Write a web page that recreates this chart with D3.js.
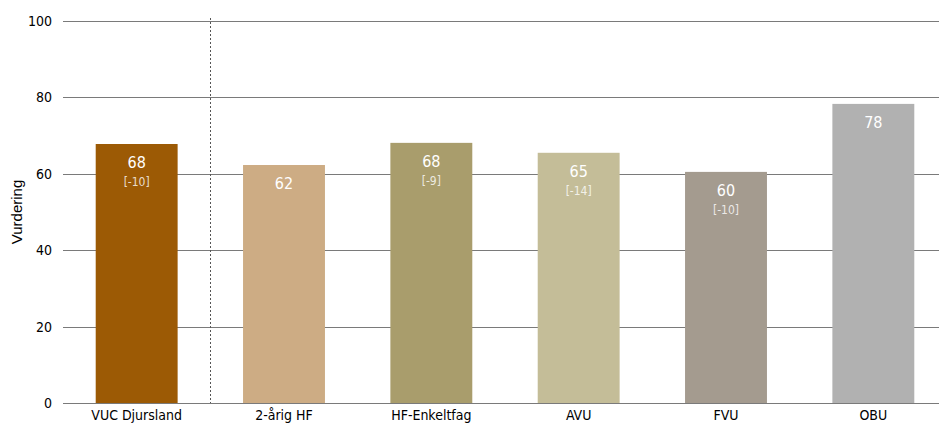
<!DOCTYPE html>
<html><head><meta charset="utf-8">
<script src="https://cdn.jsdelivr.net/npm/d3@7"></script>
<style>body{margin:0;background:#fff}</style>
</head><body>
<script>
const categories = ["VUC Djursland","2-årig HF","HF-Enkeltfag","AVU","FVU","OBU"];
const values = [67.8, 62.3, 68.1, 65.5, 60.5, 78.3];
const valueLabels = ["68", "62", "68", "65", "60", "78"];
const diffs = ["[-10]", null, "[-9]", "[-14]", "[-10]", null];
const colors = ["#9C5A05","#CDAC84","#A99D6C","#C4BD98","#A49B8F","#B1B1B1"];
const yTicks = [0, 20, 40, 60, 80, 100];

const W = 939, H = 426;
const m = {l: 63, t: 21, b: 23};
const font = "'DejaVu Sans Condensed', 'DejaVu Sans', sans-serif";

const svg = d3.select("body").append("svg").attr("width", W).attr("height", H);
const x = d3.scaleBand().domain(categories).range([m.l, 947]).paddingInner(0.444).paddingOuter(0.222);
const y = d3.scaleLinear().domain([0, 100]).range([H - m.b, m.t]);

// gridlines
svg.append("g").selectAll("line").data(yTicks).join("line")
  .attr("x1", m.l).attr("x2", W)
  .attr("y1", d => Math.round(y(d)) + 0.5).attr("y2", d => Math.round(y(d)) + 0.5)
  .attr("stroke", "#7a7a7a").attr("stroke-width", 1);

// y axis tick labels
const yAxis = d3.axisLeft(y).tickValues(yTicks).tickSize(0).tickPadding(11);
const ga = svg.append("g").attr("transform", `translate(${m.l},0)`).call(yAxis);
ga.select(".domain").remove();
ga.selectAll("text").attr("font-family", font).attr("font-size", 14).attr("fill", "#000");

// divider
const xd = Math.round(x.range()[0] + x.step() * 1) + 0.5;
svg.append("line").attr("x1", xd).attr("x2", xd).attr("y1", 18).attr("y2", y(0))
  .attr("stroke", "#555").attr("stroke-width", 1).attr("stroke-dasharray", "2,2");

// bars
svg.append("g").selectAll("rect").data(categories).join("rect")
  .attr("x", d => x(d)).attr("width", x.bandwidth())
  .attr("y", (d, i) => y(values[i])).attr("height", (d, i) => y(0) - y(values[i]))
  .attr("fill", (d, i) => colors[i]);

// value labels
svg.append("g").selectAll("text").data(categories).join("text")
  .attr("x", d => x(d) + x.bandwidth() / 2)
  .attr("y", (d, i) => y(values[i]) + 24)
  .attr("text-anchor", "middle").attr("font-family", font).attr("font-size", 16)
  .attr("fill", "#fff").text((d, i) => valueLabels[i]);

svg.append("g").selectAll("text").data(categories.filter((d, i) => diffs[i])).join("text")
  .attr("x", d => x(d) + x.bandwidth() / 2)
  .attr("y", d => y(values[categories.indexOf(d)]) + 42)
  .attr("text-anchor", "middle").attr("font-family", font).attr("font-size", 12)
  .attr("fill", "#fff").attr("fill-opacity", 0.8).text(d => diffs[categories.indexOf(d)]);

// x axis labels
const xAxis = d3.axisBottom(x).tickSize(0).tickPadding(7);
const gx = svg.append("g").attr("transform", `translate(0,${y(0)})`).call(xAxis);
gx.select(".domain").remove();
gx.selectAll("text").attr("font-family", font).attr("font-size", 14).attr("fill", "#000");

// y title
svg.append("text").attr("transform", `translate(22,212) rotate(-90)`)
  .attr("text-anchor", "middle").attr("font-family", "'Liberation Sans', Arial, sans-serif")
  .attr("font-size", 15).attr("fill", "#000").text("Vurdering");
</script>
</body></html>
